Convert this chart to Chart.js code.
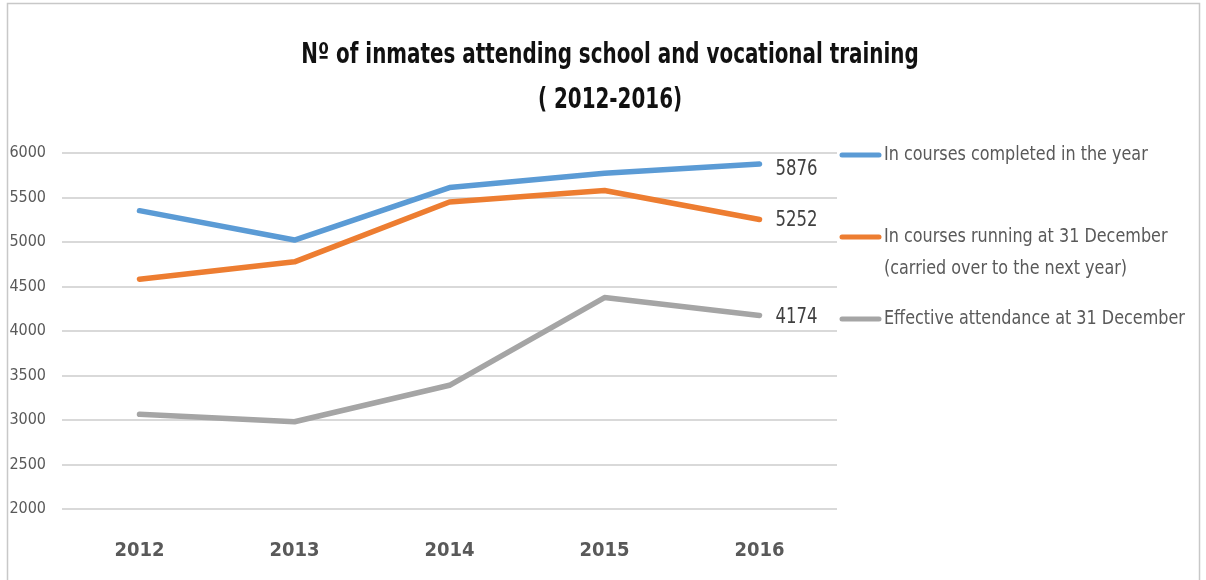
<!DOCTYPE html>
<html>
<head>
<meta charset="utf-8">
<script src="https://cdn.jsdelivr.net/npm/chart.js@4.4.1/dist/chart.umd.min.js"></script>
<style>
  html, body { margin: 0; padding: 0; background: #fff; }
  #wrap { width: 1206px; height: 580px; position: relative; }
</style>
</head>
<body>
<div id="wrap"><canvas id="chart" width="1206" height="580"></canvas></div>
<script>
// data
const years = ["2012", "2013", "2014", "2015", "2016"];
const completed = [5352, 5022, 5612, 5772, 5876];
const running = [4581, 4777, 5450, 5578, 5252];
const attendance = [3064, 2980, 3390, 4376, 4174];
const seriesNames = [
    ["In courses completed in the year"],
    ["In courses running at 31 December", "(carried over to the next year)"],
    ["Effective attendance at 31 December"],
];
const titleLines = ["Nº of inmates attending school and vocational training", "( 2012-2016)"];
const yTicks = [2000, 2500, 3000, 3500, 4000, 4500, 5000, 5500, 6000];

const FONT = "'Liberation Sans Narrow', 'DejaVu Sans Condensed', sans-serif";
const colors = ["#5B9BD5", "#ED7D31", "#A5A5A5"];

// draws text squeezed horizontally (the original font is tall and narrow)
function narrowText(ctx, text, x, y, sx) {
    ctx.save();
    ctx.translate(x, y);
    ctx.scale(sx, 1);
    ctx.fillText(text, 0, 0);
    ctx.restore();
}

// title, legend, end labels, frame
const decor = {
    id: "decor",
    afterDraw(chart) {
        const ctx = chart.ctx;
        ctx.save();

        // outer frame
        ctx.strokeStyle = "#c8c8c8";
        ctx.lineWidth = 1.5;
        ctx.strokeRect(7.5, 3.5, 1192, 600);

        // title
        ctx.fillStyle = "#111";
        ctx.textAlign = "center";
        ctx.textBaseline = "middle";
        ctx.font = "bold 28px " + FONT;
        narrowText(ctx, titleLines[0], 610, 56, 0.79);
        narrowText(ctx, titleLines[1], 610, 101, 0.79);

        // end labels, next to last point of each line
        ctx.font = "22px " + FONT;
        ctx.fillStyle = "#404040";
        ctx.textAlign = "left";
        const offs = [5, 1, 2];
        chart.data.datasets.forEach((ds, i) => {
            const pts = chart.getDatasetMeta(i).data;
            const p = pts[pts.length - 1];
            narrowText(ctx, String(ds.data[ds.data.length - 1]), p.x + 16, p.y + offs[i], 0.835);
        });

        // legend
        const legendY = [155, 237, 319];
        ctx.font = "20px " + FONT;
        ctx.fillStyle = "#595959";
        seriesNames.forEach((lines, i) => {
            ctx.strokeStyle = colors[i];
            ctx.lineWidth = 5;
            ctx.lineCap = "round";
            ctx.beginPath();
            ctx.moveTo(842, legendY[i]);
            ctx.lineTo(879, legendY[i]);
            ctx.stroke();
            lines.forEach((t, k) => narrowText(ctx, t, 884, legendY[i] + k * 32, 0.89));
        });
        ctx.restore();
    }
};

const mkSet = (label, data, color) => ({
    label: label,
    data: data,
    borderColor: color,
    backgroundColor: color,
    borderWidth: 5.5,
    pointRadius: 0,
    tension: 0,
    borderCapStyle: "round",
    borderJoinStyle: "round",
});

new Chart(document.getElementById("chart"), {
    type: "line",
    data: {
        labels: years,
        datasets: [
            mkSet(seriesNames[0].join(" "), completed, colors[0]),
            mkSet(seriesNames[1].join(" "), running, colors[1]),
            mkSet(seriesNames[2].join(" "), attendance, colors[2]),
        ],
    },
    options: {
        responsive: false,
        animation: false,
        layout: { padding: { top: 153, right: 369, left: 0, bottom: 0 } },
        plugins: {
            legend: { display: false },
            title: { display: false },
            tooltip: { enabled: false },
        },
        scales: {
            x: {
                offset: true,
                grid: { display: false, offset: true },
                border: { display: false },
                ticks: {
                    color: "#595959",
                    font: { family: FONT, size: 20, weight: "bold" },
                    padding: 22,
                    maxRotation: 0,
                },
                afterFit(scale) { scale.height = 71; },
            },
            y: {
                min: 2000,
                max: 6000,
                afterBuildTicks(scale) { scale.ticks = yTicks.map(v => ({ value: v })); },
                grid: { color: "#d9d9d9", lineWidth: 2, drawTicks: false },
                border: { display: false },
                ticks: {
                    color: "#595959",
                    font: { family: FONT, size: 16 },
                    padding: 16,
                    callback: v => String(v),
                },
                afterFit(scale) { scale.width = 62; },
            },
        },
    },
    plugins: [decor],
});
</script>
</body>
</html>
